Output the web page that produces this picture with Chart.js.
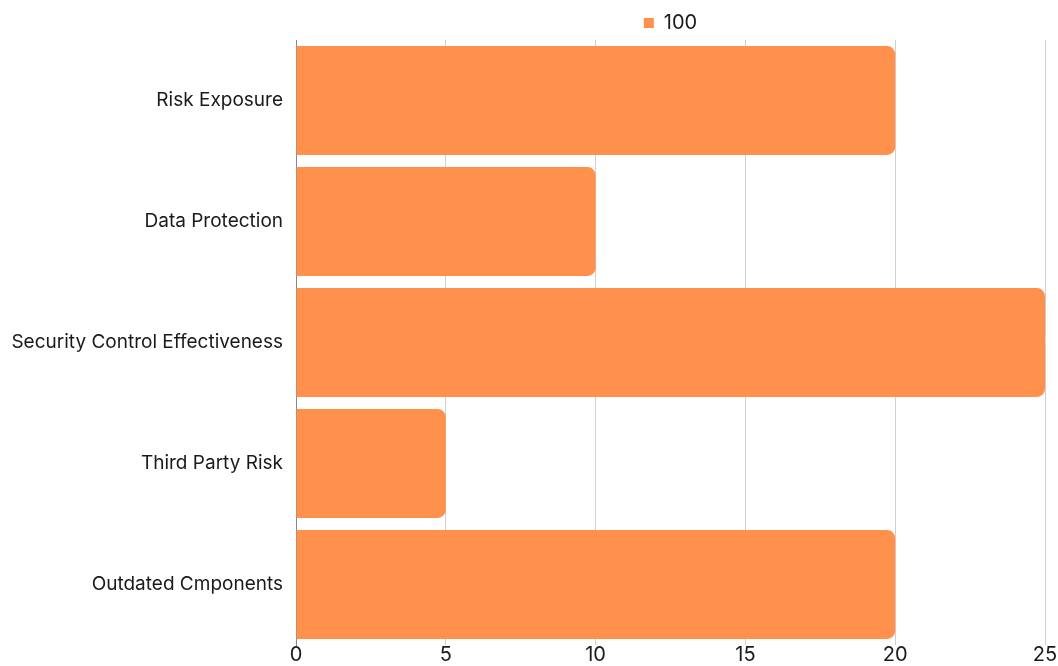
<!DOCTYPE html>
<html>
<head>
<meta charset="utf-8">
<script src="https://cdn.jsdelivr.net/npm/chart.js@4.4.1/dist/chart.umd.min.js"></script>
<style>
  html, body { margin: 0; padding: 0; background: #fff; }
  #wrap { width: 1058px; height: 666px; }
</style>
</head>
<body>
<div id="wrap"><canvas id="chart"></canvas></div>
<script>
// chart data
const categories = ['Risk Exposure', 'Data Protection', 'Security Control Effectiveness', 'Third Party Risk', 'Outdated Cmponents'];
const seriesName = '100';
const values = [20, 10, 25, 5, 20];
const xTicks = [0, 5, 10, 15, 20, 25];

const orange = '#FF914D';
Chart.defaults.font.family = "Inter, 'Open Sans', sans-serif";
Chart.defaults.color = '#1a1a1a';

// center the legend over the plot area instead of the whole canvas
const legendOverArea = {
    id: 'legendOverArea',
    afterLayout(chart) {
        const lg = chart.legend;
        if (lg) {
            lg.left = chart.chartArea.left;
            lg.right = chart.chartArea.right;
            lg.top += 3;
            lg.bottom += 3;
        }
    }
};

new Chart(document.getElementById('chart'), {
    type: 'bar',
    data: {
        labels: categories,
        datasets: [{
            label: seriesName,
            data: values,
            backgroundColor: orange,
            borderRadius: 8,
            barPercentage: 0.9,
            categoryPercentage: 1
        }]
    },
    options: {
        indexAxis: 'y',
        responsive: true,
        maintainAspectRatio: false,
        animation: false,
        layout: { padding: { right: 13, top: 0, bottom: 0, left: 0 } },
        plugins: {
            tooltip: { enabled: false },
            legend: {
                position: 'top',
                labels: {
                    boxWidth: 10,
                    boxHeight: 10,
                    padding: 10,
                    font: { size: 20 },
                    color: '#1a1a1a'
                }
            }
        },
        scales: {
            x: {
                min: 0,
                max: 25,
                afterBuildTicks: (axis) => { axis.ticks = xTicks.map(v => ({ value: v })); },
                afterFit: (axis) => { axis.height = 21; },
                grid: { color: '#d0d0d0', drawTicks: false },
                border: { display: false },
                ticks: { font: { size: 20 }, padding: -2, color: '#1a1a1a' }
            },
            y: {
                afterFit: (axis) => {
                    axis.width = 296;
                    // labels sit well inside the bars' band, no extra room needed
                    axis.paddingTop = 0;
                    axis.paddingBottom = 0;
                },
                grid: { display: false, drawTicks: false },
                border: { display: true, color: '#888' },
                ticks: { font: { size: 19 }, padding: 13, color: '#1a1a1a' }
            }
        }
    },
    plugins: [legendOverArea]
});
</script>
</body>
</html>
